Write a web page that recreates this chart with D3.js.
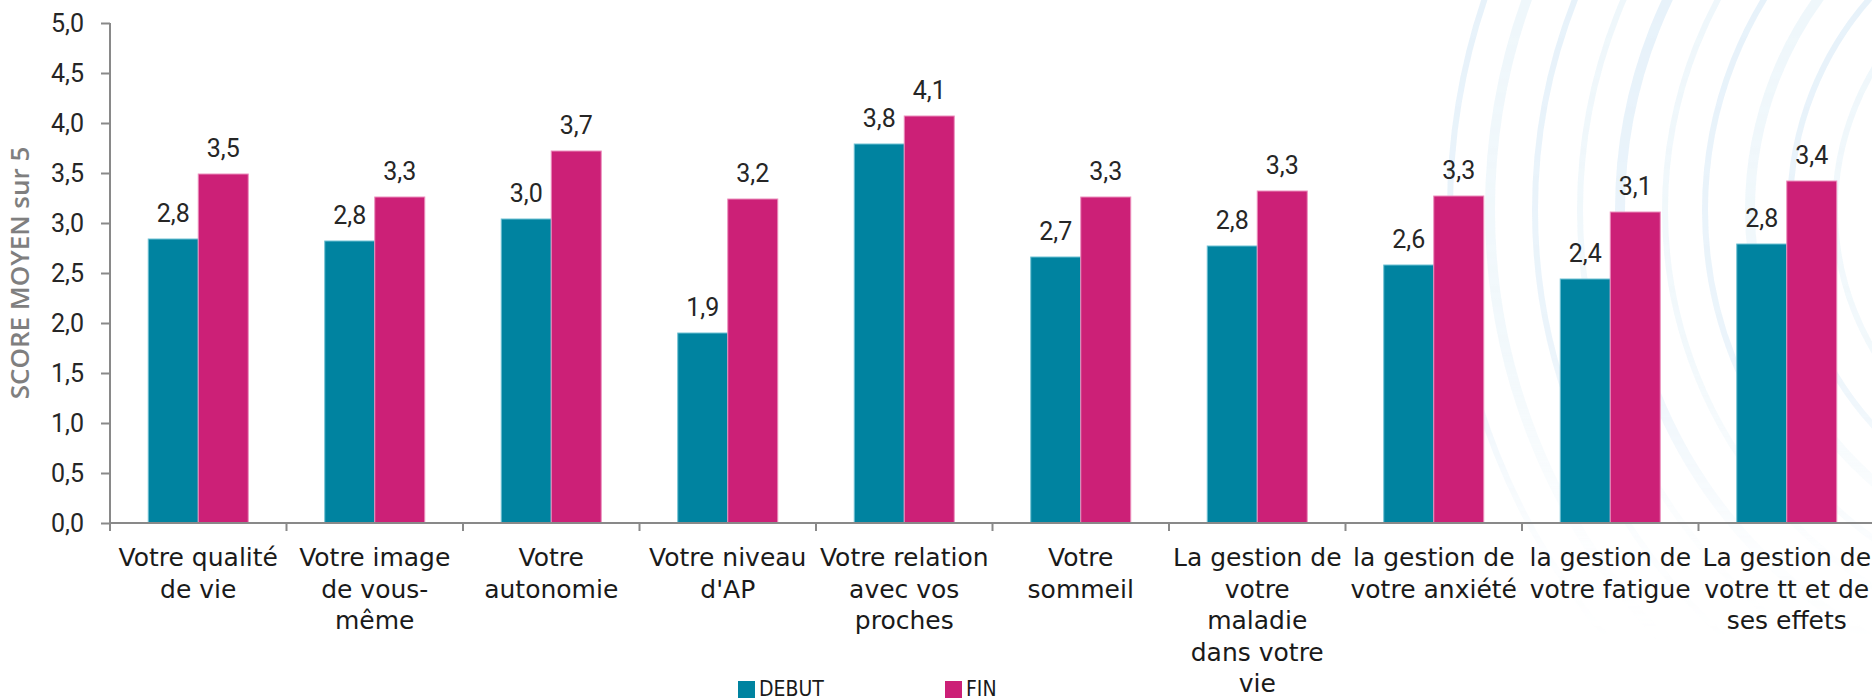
<!DOCTYPE html>
<html>
<head>
<meta charset="utf-8">
<script src="https://cdn.jsdelivr.net/npm/d3@7"></script>
<style>
  body { margin: 0; background: #fff; }
  svg { display: block; }
  .axis path, .axis line { stroke: #898989; stroke-width: 2; }
  .y-axis text { font-family: Roboto, sans-serif; font-size: 25px; fill: #262626; }
  .x-label { font-family: 'DejaVu Sans', sans-serif; font-size: 25px; fill: #1a1a1a; }
  .value { font-family: Roboto, sans-serif; font-size: 25px; fill: #262626; }
  .y-title { font-family: 'Open Sans', sans-serif; font-weight: 600; font-size: 26px; fill: #7f7f7f; }
  .legend text { font-family: 'DejaVu Sans Condensed', 'DejaVu Sans', sans-serif; font-size: 21px; fill: #1a1a1a; }
</style>
</head>
<body>
<div id="chart"></div>
<script>
// categories (line breaks as in the picture)
var categories = [
  'Votre qualité\nde vie',
  'Votre image\nde vous-\nmême',
  'Votre\nautonomie',
  "Votre niveau\nd'AP",
  'Votre relation\navec vos\nproches',
  'Votre\nsommeil',
  'La gestion de\nvotre\nmaladie\ndans votre\nvie',
  'la gestion de\nvotre anxiété',
  'la gestion de\nvotre fatigue',
  'La gestion de\nvotre tt et de\nses effets'
]
var debut = [2.84, 2.82, 3.04, 1.90, 3.79, 2.66, 2.77, 2.58, 2.44, 2.79]
var fin = [3.49, 3.26, 3.72, 3.24, 4.07, 3.26, 3.32, 3.27, 3.11, 3.42]
var seriesNames = ['DEBUT', 'FIN']
var seriesColors = ['#0083a0', '#cc2077']
var yTicks = [0, 0.5, 1, 1.5, 2, 2.5, 3, 3.5, 4, 4.5, 5]
var yTitle = 'SCORE MOYEN sur 5'

var width = 1872, height = 699
var margin = { top: 23, left: 110, bottom: 176 }
var plotRight = 1875

var fr = d3.formatLocale({ decimal: ',', thousands: ' ', grouping: [3], currency: ['', ' €'] })
var fmt = fr.format('.1f')

var svg = d3.select('#chart').append('svg')
  .attr('width', width)
  .attr('height', height)

// faint background swirl (top right), fading out downwards
var defs = svg.append('defs')
var grad = defs.append('linearGradient')
  .attr('id', 'fade').attr('x1', 0).attr('y1', 0).attr('x2', 0).attr('y2', 1)
grad.append('stop').attr('offset', '0%').attr('stop-color', '#fff').attr('stop-opacity', 1)
grad.append('stop').attr('offset', '55%').attr('stop-color', '#fff').attr('stop-opacity', 0.8)
grad.append('stop').attr('offset', '85%').attr('stop-color', '#fff').attr('stop-opacity', 0.15)
grad.append('stop').attr('offset', '100%').attr('stop-color', '#fff').attr('stop-opacity', 0)
defs.append('mask').attr('id', 'swirl-mask')
  .append('rect').attr('x', 1300).attr('y', 0).attr('width', 600).attr('height', 640)
  .attr('fill', 'url(#fade)')

var swirl = svg.append('g').attr('class', 'swirl').attr('mask', 'url(#swirl-mask)')
var radii = [230, 275, 320, 360, 405, 445, 490, 530, 575, 620, 660]
swirl.selectAll('circle')
  .data(radii)
  .enter().append('circle')
  .attr('cx', 2110)
  .attr('cy', 210)
  .attr('r', function (d) { return d })
  .attr('fill', 'none')
  .attr('stroke', '#e4f1f9')
  .attr('stroke-opacity', function (d, i) { return i % 2 ? 0.6 : 0.9 })
  .attr('stroke-width', function (d, i) { return i % 3 === 0 ? 10 : 6 })

var x0 = d3.scaleBand()
  .domain(categories)
  .range([margin.left, plotRight])
  .paddingInner(0.4334)
  .paddingOuter(0.2167)

var x1 = d3.scaleBand()
  .domain(seriesNames)
  .range([0, x0.bandwidth()])

var y = d3.scaleLinear()
  .domain([0, 5])
  .range([height - margin.bottom, margin.top])

// bars
var groups = svg.append('g').selectAll('g')
  .data(categories)
  .enter().append('g')
  .attr('transform', function (d) { return 'translate(' + x0(d) + ',0)' })

groups.selectAll('rect')
  .data(function (d, i) { return [debut[i], fin[i]] })
  .enter().append('rect')
  .attr('x', function (d, j) { return x1(seriesNames[j]) })
  .attr('y', function (d) { return y(d) })
  .attr('width', x1.bandwidth())
  .attr('height', function (d) { return y(0) - y(d) })
  .attr('fill', function (d, j) { return seriesColors[j] })
  .attr('stroke', function (d, j) { return j ? '#ec8fbd' : '#6fc1d3' })
  .attr('stroke-width', 1)

groups.selectAll('text')
  .data(function (d, i) { return [debut[i], fin[i]] })
  .enter().append('text')
  .attr('class', 'value')
  .attr('x', function (d, j) { return x1(seriesNames[j]) + x1.bandwidth() / 2 })
  .attr('y', function (d) { return y(d) - 17 })
  .attr('text-anchor', 'middle')
  .text(function (d) { return fmt(d) })

// y axis
var yAxis = d3.axisLeft(y)
  .tickValues(yTicks)
  .tickSize(9)
  .tickPadding(17)
  .tickFormat(fmt)

svg.append('g')
  .attr('class', 'axis y-axis')
  .attr('transform', 'translate(' + margin.left + ',0)')
  .call(yAxis)
  .call(function (g) { g.select('.domain').attr('d', 'M0,' + y(5) + 'V' + y(0)) })

// x axis line + ticks at category boundaries
var step = x0.step()
var xAxisG = svg.append('g')
  .attr('class', 'axis x-axis')
  .attr('transform', 'translate(0,' + y(0) + ')')
xAxisG.append('path')
  .attr('d', 'M' + margin.left + ',0H' + plotRight)
xAxisG.selectAll('line')
  .data(d3.range(categories.length + 1))
  .enter().append('line')
  .attr('x1', function (i) { return margin.left + i * step })
  .attr('x2', function (i) { return margin.left + i * step })
  .attr('y1', 0)
  .attr('y2', 8)

// category labels
var labels = svg.append('g')
  .selectAll('text')
  .data(categories)
  .enter().append('text')
  .attr('class', 'x-label')
  .attr('text-anchor', 'middle')
  .attr('x', function (d) { return x0(d) + x0.bandwidth() / 2 })
  .attr('y', y(0) + 43)

labels.selectAll('tspan')
  .data(function (d) { return d.split('\n') })
  .enter().append('tspan')
  .attr('x', function () { return d3.select(this.parentNode).attr('x') })
  .attr('dy', function (d, i) { return i ? 31.5 : 0 })
  .text(function (d) { return d })

// y title
svg.append('text')
  .attr('class', 'y-title')
  .attr('text-anchor', 'middle')
  .attr('transform', 'translate(29,' + (y(2.5)) + ') rotate(-90)')
  .text(yTitle)

// legend
var legendX = [738, 945]
var legend = svg.append('g').attr('class', 'legend')
var items = legend.selectAll('g')
  .data(seriesNames)
  .enter().append('g')
  .attr('transform', function (d, i) { return 'translate(' + legendX[i] + ',681)' })
items.append('rect')
  .attr('width', 17)
  .attr('height', 17)
  .attr('fill', function (d, i) { return seriesColors[i] })
items.append('text')
  .attr('x', 21)
  .attr('y', 15)
  .text(function (d) { return d })
</script>
</body>
</html>
